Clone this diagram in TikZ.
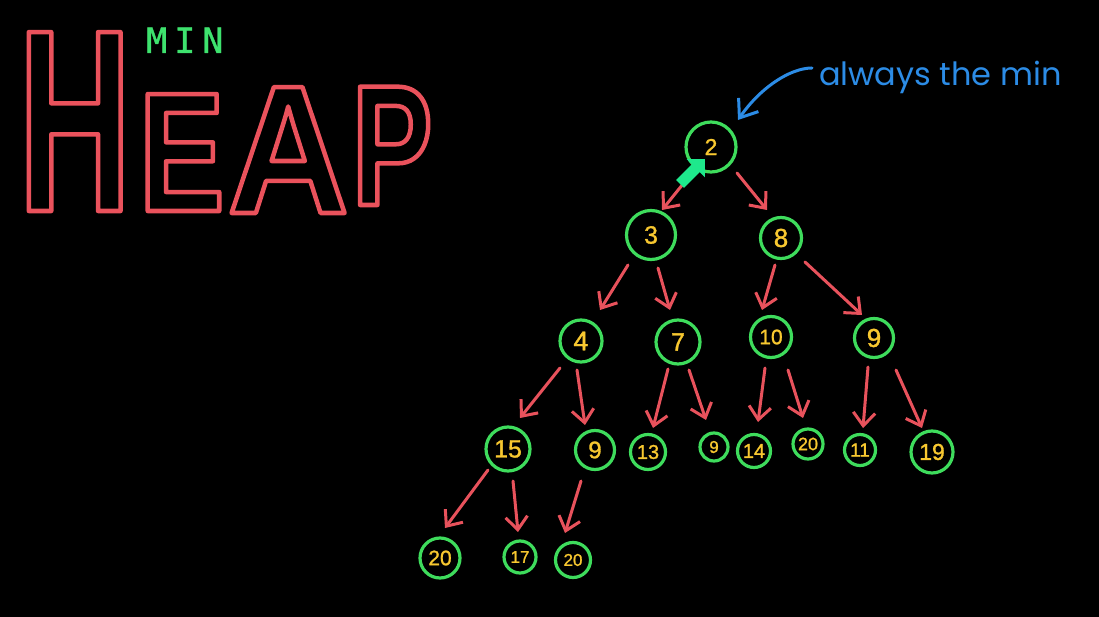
\documentclass[tikz,border=0pt]{standalone}
\usepackage{fontspec}
\setmainfont{Liberation Sans}
\usetikzlibrary{arrows.meta,calc}
\newfontfamily\numfont[FakeBold=1.2]{Liberation Sans}
\newfontfamily\hfH[FakeStretch=0.60]{Liberation Sans}
\newfontfamily\hfE[FakeStretch=0.75]{Liberation Sans}
\newfontfamily\hfA[FakeStretch=0.92]{Liberation Sans}
\newfontfamily\hfP[FakeStretch=0.70]{Liberation Sans}
\newfontfamily\minfont[LetterSpace=20,FakeBold=1]{DejaVu Sans Mono}
\newfontfamily\notefont{Poppins}
\newcommand\numsz[1]{\numfont\fontsize{#1}{#1}\selectfont}
\definecolor{hred}{RGB}{234,82,92}
\definecolor{ared}{RGB}{232,82,92}
\definecolor{hgreen}{RGB}{62,220,92}
\definecolor{hyel}{RGB}{248,200,48}
\definecolor{ablue}{RGB}{44,140,230}
\definecolor{mint}{RGB}{30,232,140}
\definecolor{mingreen}{RGB}{62,226,110}
\begin{document}
\begin{tikzpicture}[x=1pt,y=1pt,
  hn/.style={circle, draw=hgreen, line width=3.2pt, inner sep=0pt, text=hyel},
  edge/.style={draw=ared, line width=3pt, line cap=round, line join=round,
    -{Straight Barb[length=13pt,width=22pt]}},
  garrow/.style={draw=mint, line width=11pt, -{Triangle[length=13pt,width=25pt]}},
  barrow/.style={draw=ablue, line width=3pt, line cap=round, line join=round,
    -{Straight Barb[length=16pt,width=24pt]}},
]
\useasboundingbox (0,0) rectangle (1099,-617);
\fill[black] (0,0) rectangle (1099,-617);

% title
\node[anchor=base west, inner sep=0pt, text=hred] (heap) at (21,-211)
  {\special{pdf:literal direct 1 Tr 4.5 w 1 j 1 J}\bfseries
   \makebox[107pt][c]{\hfH\bfseries\fontsize{260}{260}\selectfont H}%
   \makebox[107pt][c]{\hfE\bfseries\fontsize{170}{170}\selectfont E}%
   \makebox[106pt][c]{\raisebox{-2pt}{\hfA\bfseries\fontsize{183}{183}\selectfont A}}%
   \makebox[102pt][c]{\raisebox{6pt}{\hfP\bfseries\fontsize{172}{172}\selectfont P}}};
\node[anchor=base west, inner sep=0pt, text=mingreen, font=\minfont\fontsize{35}{35}\selectfont] (min) at (146,-53) {MIN};

% heap nodes
\node[hn, minimum size=50pt, font=\numsz{23}] (n2) at (711,-147) {2};
\node[hn, minimum size=49pt, font=\numsz{25}] (n3) at (651,-235) {3};
\node[hn, minimum size=41pt, font=\numsz{26}] (n8) at (781,-238) {8};
\node[hn, minimum size=42pt, font=\numsz{27}] (n4) at (581,-341) {4};
\node[hn, minimum size=44pt, font=\numsz{25}] (n7) at (678,-342) {7};
\node[hn, minimum size=41pt, font=\numsz{21}] (n10) at (771,-337) {10};
\node[hn, minimum size=39pt, font=\numsz{26}] (n9a) at (874,-338) {9};
\node[hn, minimum size=44pt, font=\numsz{25}] (n15) at (508,-449) {15};
\node[hn, minimum size=39pt, font=\numsz{24}] (n9b) at (595,-450) {9};
\node[hn, minimum size=35pt, font=\numsz{20}] (n13) at (648,-452) {13};
\node[hn, minimum size=28pt, font=\numsz{17}] (n9c) at (714,-447) {9};
\node[hn, minimum size=33pt, font=\numsz{20}] (n14) at (754,-451) {14};
\node[hn, minimum size=30pt, font=\numsz{18}] (n20a) at (808,-444) {20};
\node[hn, minimum size=31pt, font=\numsz{19}] (n11) at (860,-450) {11};
\node[hn, minimum size=42pt, font=\numsz{23}] (n19) at (932,-452) {19};
\node[hn, minimum size=40pt, font=\numsz{21}] (n20b) at (440,-558) {20};
\node[hn, minimum size=32pt, font=\numsz{17}] (n17) at (520,-557) {17};
\node[hn, minimum size=35pt, font=\numsz{17}] (n20c) at (573,-560) {20};

% red edges
\draw[edge] ($(n2)+(-28,-37)$) -- ($(n3)+(11,25)$);
\draw[edge] ($(n2)+(26,-26)$) -- ($(n8)+(-14,28)$);
\draw[edge] ($(n3)+(-23,-30)$) -- ($(n4)+(19,31)$);
\draw[edge] ($(n3)+(7,-33)$) -- ($(n7)+(-8,32)$);
\draw[edge] ($(n8)+(-6,-27)$) -- ($(n10)+(-9,27)$);
\draw[edge] ($(n8)+(24,-24)$) -- ($(n9a)+(-12,23)$);
\draw[edge] ($(n4)+(-21,-27)$) -- ($(n15)+(12,31)$);
\draw[edge] ($(n4)+(-4,-29)$) -- ($(n9b)+(-10,25)$);
\draw[edge] ($(n7)+(-10,-27)$) -- ($(n13)+(5,24)$);
\draw[edge] ($(n7)+(11,-28)$) -- ($(n9c)+(-8,27)$);
\draw[edge] ($(n10)+(-6,-31)$) -- ($(n14)+(4,29)$);
\draw[edge] ($(n10)+(17,-33)$) -- ($(n20a)+(-5,26)$);
\draw[edge] ($(n9a)+(-6,-29)$) -- ($(n11)+(3,22)$);
\draw[edge] ($(n9a)+(22,-32)$) -- ($(n19)+(-10,24)$);
\draw[edge] ($(n15)+(-20,-21)$) -- ($(n20b)+(5,30)$);
\draw[edge] ($(n15)+(5,-32)$) -- ($(n17)+(-2,25)$);
\draw[edge] ($(n9b)+(-14,-31)$) -- ($(n20c)+(-8,27)$);

% green arrow into the root
\draw[garrow] ($(n2)+(-31,-37)$) -- ($(n2)+(-6,-12)$);

% annotation
\node[anchor=base west, inner sep=0pt, text=ablue, font=\notefont\fontsize{32}{32}\selectfont] (note) at (819,-86) {always the min};
\coordinate (bs) at (812,-68);
\draw[barrow] (bs) .. controls (790,-68) and (760,-88) .. ($(n2)+(27,27)$);
\end{tikzpicture}
\end{document}
